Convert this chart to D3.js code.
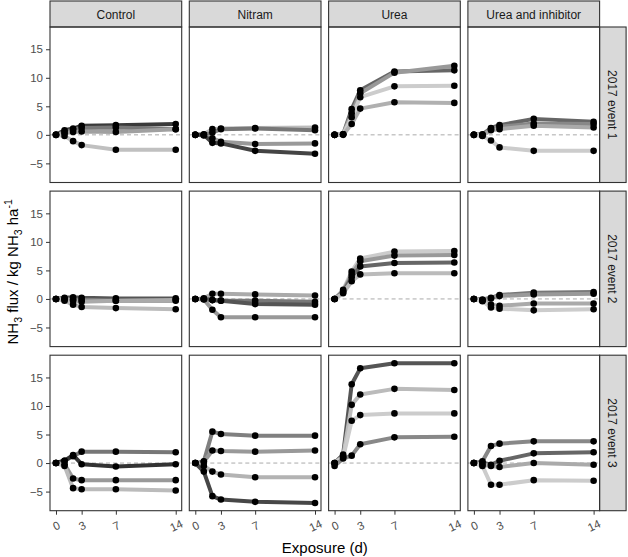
<!DOCTYPE html>
<html>
<head>
<meta charset="utf-8">
<script src="https://cdn.jsdelivr.net/npm/d3@7"></script>
<style>
  body { margin: 0; background: #fff; }
  text { font-family: "Liberation Sans", Arial, sans-serif; }
</style>
</head>
<body>
<div id="chart"></div>
<script>
// facets
var treatments = ["Control", "Nitram", "Urea", "Urea and inhibitor"];
var events = ["2017 event 1", "2017 event 2", "2017 event 3"];
var days = [0, 1, 2, 3, 7, 14];
var xTicks = [0, 3, 7, 14];
var yTicks = [-5, 0, 5, 10, 15];

// cumulative NH3 flux, one array of 4 plots per treatment
var fluxEvent1 = [
    [[0, 0.8, 1.1, 1.6, 1.7, 1.9], [0, 0.5, 0.9, 1.2, 1.3, 1.0], [0, 0.3, 0.5, 0.6, 0.5, 1.0], [0, -0.2, -1.1, -1.8, -2.6, -2.6]],
    [[0, 0.1, 1.0, 1.1, 1.2, 1.3], [0, 0, 0.4, 1.0, 1.1, 0.8], [0, -0.1, -0.6, -1.2, -1.6, -1.5], [0, 0, -1.4, -1.5, -2.8, -3.3]],
    [[0, 0.1, 4.5, 7.8, 11.1, 11.3], [0, 0.1, 3.8, 7.3, 10.9, 12.1], [0, 0.1, 3.1, 6.6, 8.5, 8.6], [0, 0, 1.9, 4.6, 5.7, 5.6]],
    [[0, 0.1, 1.2, 1.7, 2.8, 2.3], [0, 0, 1.0, 1.4, 2.0, 1.9], [0, -0.1, 0.8, 1.0, 1.6, 1.3], [0, -0.2, -1.0, -2.2, -2.8, -2.8]]
];
var fluxEvent2 = [
    [[0, 0.2, 0.3, 0.2, 0.1, 0.1], [0, 0, -0.1, -0.2, -0.3, -0.3], [0, -0.1, -0.3, -0.5, -0.3, -0.2], [0, -0.3, -1.0, -1.4, -1.6, -1.8]],
    [[0, 0.1, 0.9, 0.9, 0.8, 0.6], [0, 0, -0.2, -0.3, -0.3, -0.5], [0, 0, -0.2, -0.3, -0.9, -1.0], [0, -0.1, -1.9, -3.2, -3.2, -3.2]],
    [[0, 1.6, 4.8, 7.1, 8.3, 8.4], [0, 1.4, 4.3, 6.6, 7.6, 7.7], [0, 1.2, 3.8, 5.7, 6.3, 6.4], [0, 1.0, 3.1, 4.3, 4.5, 4.5]],
    [[0, -0.1, 0.2, 0.7, 1.1, 1.2], [0, -0.2, 0.1, 0.5, 0.8, 0.9], [0, -0.3, -1.0, -1.2, -0.8, -0.8], [0, -0.4, -1.5, -1.7, -2.0, -1.8]]
];
var fluxEvent3 = [
    [[0, 0.4, 1.2, 2.0, 2.0, 1.9], [0, 0.4, 1.4, -0.2, -0.6, -0.2], [0, -0.2, -2.7, -3.0, -3.0, -3.0], [0, -0.5, -4.4, -4.6, -4.6, -4.8]],
    [[0, 0.3, 5.5, 5.1, 4.8, 4.8], [0, 0.2, 2.2, 2.1, 2.0, 2.2], [0, -0.5, -1.5, -2.0, -2.5, -2.5], [0, -1.5, -5.8, -6.4, -6.8, -7.0]],
    [[0, 1.5, 13.8, 16.6, 17.5, 17.5], [0, 1.2, 10.2, 12.0, 13.0, 12.8], [0, 1.0, 7.4, 8.4, 8.7, 8.7], [-0.5, 0.8, 1.3, 3.3, 4.5, 4.6]],
    [[0, 0.3, 3.0, 3.4, 3.8, 3.8], [0, 0.1, -0.3, 0.4, 1.7, 1.9], [0, -0.3, -0.5, -0.7, 0.0, -0.3], [0, -0.5, -3.8, -3.8, -3.0, -3.1]]
];
var flux = [fluxEvent1, fluxEvent2, fluxEvent3];

// grey shade of each plot line, per event and treatment
var shades = [
    [["#3a3a3a", "#777", "#a0a0a0", "#c0c0c0"], ["#bbb", "#777", "#999", "#444"], ["#666", "#999", "#ccc", "#b0b0b0"], ["#666", "#888", "#aaa", "#ccc"]],
    [["#555", "#888", "#aaa", "#bbb"], ["#aaa", "#777", "#555", "#999"], ["#ccc", "#999", "#666", "#bbb"], ["#777", "#999", "#aaa", "#ccc"]],
    [["#777", "#333", "#999", "#bbb"], ["#808080", "#999", "#b3b3b3", "#474747"], ["#555", "#bbb", "#ccc", "#888"], ["#888", "#666", "#aaa", "#ccc"]]
];

var width = 628, height = 557;
var marginL = 50, marginT = 27;
var pw = 131.7, ph = 155.5, gapX = 7.6, gapY = 8.6;
var stripH = 26, stripW = 26.5;

var svg = d3.select("#chart").append("svg")
    .attr("width", width)
    .attr("height", height);

var x = d3.scaleLinear().domain([-0.7, 14.7]).range([0, pw]);
var y = d3.scaleLinear().domain([-8.35, 18.9]).range([ph, 0]);

var line = d3.line()
    .x(function(d, i) { return x(days[i]); })
    .y(function(d) { return y(d); });

// column strips
treatments.forEach(function(t, c) {
    var g = svg.append("g").attr("transform", "translate(" + (marginL + c * (pw + gapX)) + "," + (marginT - stripH) + ")");
    g.append("rect").attr("width", pw).attr("height", stripH)
        .attr("fill", "#d9d9d9").attr("stroke", "#333").attr("stroke-width", 1.1);
    g.append("text").attr("x", pw / 2).attr("y", stripH / 2 + 4.5)
        .attr("text-anchor", "middle").attr("font-size", 12).attr("fill", "#1a1a1a").text(t);
});

events.forEach(function(ev, r) {
    var py = marginT + r * (ph + gapY);

    // row strip
    var sg = svg.append("g").attr("transform", "translate(" + (marginL + 4 * pw + 3 * gapX) + "," + py + ")");
    sg.append("rect").attr("width", stripW).attr("height", ph)
        .attr("fill", "#d9d9d9").attr("stroke", "#333").attr("stroke-width", 1.1);
    sg.append("text").attr("transform", "translate(" + (stripW / 2 - 4.5) + "," + (ph / 2) + ") rotate(90)")
        .attr("text-anchor", "middle").attr("font-size", 12).attr("fill", "#1a1a1a").text(ev);

    treatments.forEach(function(t, c) {
        var px = marginL + c * (pw + gapX);
        var g = svg.append("g").attr("transform", "translate(" + px + "," + py + ")");

        g.append("line").attr("x1", 0).attr("x2", pw).attr("y1", y(0)).attr("y2", y(0))
            .attr("stroke", "#aaa").attr("stroke-width", 1).attr("stroke-dasharray", "4,3");

        flux[r][c].forEach(function(s, k) {
            g.append("path").datum(s).attr("d", line)
                .attr("fill", "none").attr("stroke", shades[r][c][k])
                .attr("stroke-width", 4).attr("stroke-linejoin", "round");
        });
        flux[r][c].forEach(function(s) {
            g.selectAll(null).data(s).enter().append("circle")
                .attr("cx", function(d, i) { return x(days[i]); })
                .attr("cy", function(d) { return y(d); })
                .attr("r", 3.3).attr("fill", "#000");
        });

        g.append("rect").attr("width", pw).attr("height", ph)
            .attr("fill", "none").attr("stroke", "#333").attr("stroke-width", 1.1);

        if (c === 0) {
            var ya = g.append("g").call(d3.axisLeft(y).tickValues(yTicks).tickSize(4).tickPadding(3));
            ya.select(".domain").remove();
            ya.selectAll("line").attr("stroke", "#333");
            ya.selectAll("text").attr("font-size", 11.5).attr("fill", "#4d4d4d")
                .style("font-family", "Liberation Sans, Arial, sans-serif");
        }
        if (r === events.length - 1) {
            var xa = g.append("g").attr("transform", "translate(0," + ph + ")")
                .call(d3.axisBottom(x).tickValues(xTicks).tickSize(4).tickPadding(3));
            xa.select(".domain").remove();
            xa.selectAll("line").attr("stroke", "#333");
            xa.selectAll("text").attr("font-size", 11.5).attr("fill", "#4d4d4d")
                .style("font-family", "Liberation Sans, Arial, sans-serif")
                .attr("y", 0).attr("dy", "0.35em")
                .attr("transform", "translate(0,15) rotate(-25)");
        }
    });
});

// axis titles
svg.append("text").attr("x", marginL + (4 * pw + 3 * gapX) / 2).attr("y", 553)
    .attr("text-anchor", "middle").attr("font-size", 15).attr("fill", "#000")
    .text("Exposure (d)");

var yt = svg.append("text")
    .attr("transform", "translate(18," + (marginT + (3 * ph + 2 * gapY) / 2 + 3) + ") rotate(-90)")
    .attr("text-anchor", "middle").attr("font-size", 15).attr("fill", "#000");
yt.append("tspan").text("NH");
yt.append("tspan").attr("font-size", 10.5).attr("dy", 4).text("3");
yt.append("tspan").attr("dy", -4).text(" flux / kg NH");
yt.append("tspan").attr("font-size", 10.5).attr("dy", 4).text("3");
yt.append("tspan").attr("dy", -4).text(" ha");
yt.append("tspan").attr("font-size", 10.5).attr("dy", -6).text("-1");
</script>
</body>
</html>
